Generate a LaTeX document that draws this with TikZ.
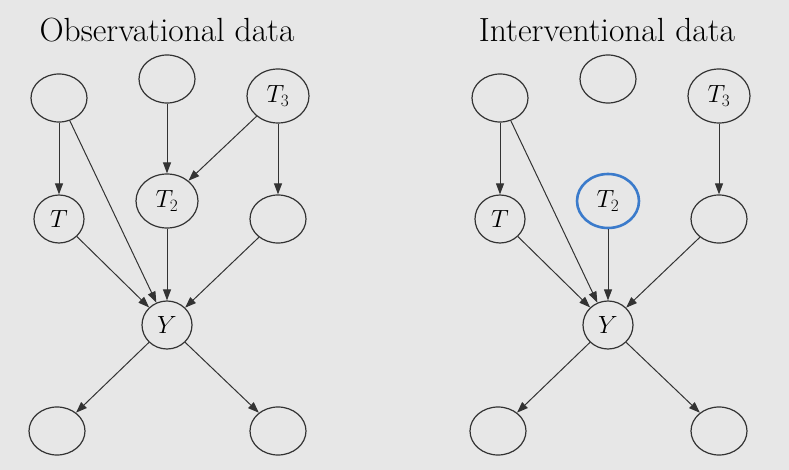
\documentclass[tikz,border=0pt]{standalone}
\usetikzlibrary{shapes.geometric,arrows.meta}
\definecolor{bggray}{HTML}{E7E7E7}
\definecolor{linegray}{HTML}{333333}
\definecolor{doblue}{HTML}{3B7BCB}

\begin{document}
\begin{tikzpicture}[x=1pt,y=-1pt,
  var/.style={ellipse,draw=linegray,line width=1.2pt,minimum width=56pt,minimum height=48pt,inner sep=0pt,font=\fontsize{25}{30}\selectfont},
  bigvar/.style={var,minimum width=62pt,minimum height=54pt},
  smallvar/.style={var,minimum width=50pt,minimum height=48pt},
  dovar/.style={bigvar,draw=doblue,line width=2.6pt},
  edge/.style={draw=linegray,line width=1pt,-{Triangle[length=11pt,width=8pt]}},
  title/.style={font=\fontsize{33.5}{40}\selectfont,text=black}]
\fill[bggray] (0,0) rectangle (789,470);
\useasboundingbox (0,0) rectangle (789,470);

% observational graph
\node[title] (otitle) at (167,30) {Observational data};
\node[var] (oa) at (59,98) {};
\node[var] (ob) at (167,79) {};
\node[bigvar] (oT3) at (278,96) {$T_3$};
\node[smallvar] (oT) at (59,219) {$T$};
\node[bigvar] (oT2) at (167,201) {$T_2$};
\node[var] (oc) at (278,219) {};
\node[smallvar] (oY) at (167,325) {$Y$};
\node[var] (od) at (57,431) {};
\node[var] (oe) at (278,431) {};

\draw[edge] (oa) -- (oT);
\draw[edge] (oa) -- (oY);
\draw[edge] (ob) -- (oT2);
\draw[edge] (oT3) -- (oT2);
\draw[edge] (oT3) -- (oc);
\draw[edge] (oT) -- (oY);
\draw[edge] (oT2) -- (oY);
\draw[edge] (oc) -- (oY);
\draw[edge] (oY) -- (od);
\draw[edge] (oY) -- (oe);

% interventional graph
\node[title] (ititle) at (607,30) {Interventional data};
\node[var] (ia) at (500,98) {};
\node[var] (ib) at (608,79) {};
\node[bigvar] (iT3) at (719,96) {$T_3$};
\node[smallvar] (iT) at (500,219) {$T$};
\node[dovar] (iT2) at (608,201) {$T_2$};
\node[var] (ic) at (719,219) {};
\node[smallvar] (iY) at (608,325) {$Y$};
\node[var] (id) at (498,431) {};
\node[var] (ie) at (719,431) {};

\draw[edge] (ia) -- (iT);
\draw[edge] (ia) -- (iY);
\draw[edge] (iT3) -- (ic);
\draw[edge] (iT) -- (iY);
\draw[edge] (iT2) -- (iY);
\draw[edge] (ic) -- (iY);
\draw[edge] (iY) -- (id);
\draw[edge] (iY) -- (ie);

\end{tikzpicture}
\end{document}
